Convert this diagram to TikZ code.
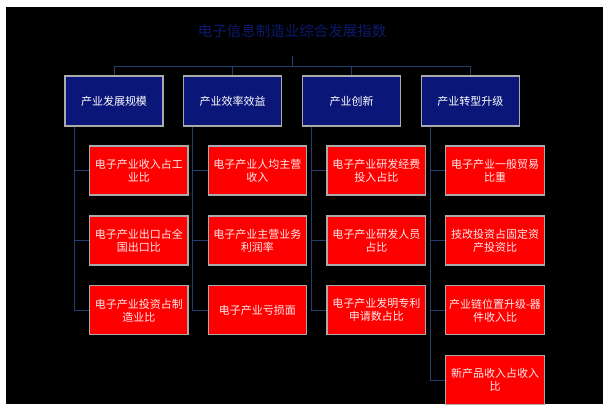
\documentclass[tikz,border=0pt]{standalone}
\usepackage{fontspec}
\newfontfamily\cjk{Noto Sans CJK SC}
\usetikzlibrary{calc}
\definecolor{navyfill}{RGB}{10,22,120}
\definecolor{titlecol}{RGB}{12,26,110}
\definecolor{linecol}{RGB}{36,62,110}
\definecolor{boxedge}{RGB}{170,170,170}
\definecolor{redfill}{RGB}{255,0,0}
\definecolor{txtcol}{RGB}{255,235,235}
\tikzset{
  topbox/.style={draw=boxedge, line width=1.2pt, fill=navyfill, minimum width=98pt, minimum height=50pt,
    inner sep=0pt, font=\cjk\fontsize{11}{13}\selectfont, text=white, align=center},
  redbox/.style={draw=boxedge, line width=1.2pt, fill=redfill, minimum width=98.5pt, minimum height=49pt,
    inner sep=0pt, font=\cjk\fontsize{11}{13}\selectfont, text=txtcol, align=center},
  conn/.style={draw=linecol, line width=1pt}
}
\begin{document}
\begin{tikzpicture}[x=1pt,y=-1pt]
\useasboundingbox (0,0) rectangle (603,409);
\fill[white] (0,0) rectangle (603,409);
\fill[black] (6,7) rectangle (603,404);

\node[font=\cjk\fontsize{14.5}{16}\selectfont, text=titlecol] (title) at (292,31) {电子信息制造业综合发展指数};

\node[topbox] (t1) at (114,101) {产业发展规模};
\node[topbox] (t2) at (232.7,101) {产业效率效益};
\node[topbox] (t3) at (351.5,101) {产业创新};
\node[topbox] (t4) at (470.3,101) {产业转型升级};

\node[redbox] (r11) at (138.75,170.5) {电子产业收入占工\\业比};
\node[redbox] (r12) at (138.75,240.5) {电子产业出口占全\\国出口比};
\node[redbox] (r13) at (138.75,310.3) {电子产业投资占制\\造业比};

\node[redbox] (r21) at (257.45,170.5) {电子产业人均主营\\收入};
\node[redbox] (r22) at (257.45,240.5) {电子产业主营业务\\利润率};
\node[redbox] (r23) at (257.45,310.3) {电子产业亏损面};

\node[redbox] (r31) at (376.25,170.5) {电子产业研发经费\\投入占比};
\node[redbox] (r32) at (376.25,240.5) {电子产业研发人员\\占比};
\node[redbox] (r33) at (376.25,310.3) {电子产业发明专利\\申请数占比};

\node[redbox] (r41) at (495.05,170.5) {电子产业一般贸易\\比重};
\node[redbox] (r42) at (495.05,240.5) {技改投资占固定资\\产投资比};
\node[redbox] (r43) at (495.05,310.3) {产业链位置升级-器\\件收入比};
\node[redbox] (r44) at (495.05,380) {新产品收入占收入\\比};

\coordinate (tt) at (292,56);
\coordinate (hy) at (292,66.7);
\draw[conn] (tt) -- (hy);
\draw[conn] (t1.north) |- (hy) -| (t4.north);
\draw[conn] (t2.north) -- (t2.north |- hy);
\draw[conn] (t3.north) -- (t3.north |- hy);

\foreach \t/\n in {1/3,2/3,3/3,4/4}{
  \draw[conn] ([xshift=9.7pt]t\t.south west) |- (r\t\n.west);
  \foreach \k in {1,...,\n}{
    \draw[conn] ([xshift=9.7pt]t\t.south west |- r\t\k.west) -- (r\t\k.west);
  }
}
\end{tikzpicture}
\end{document}
